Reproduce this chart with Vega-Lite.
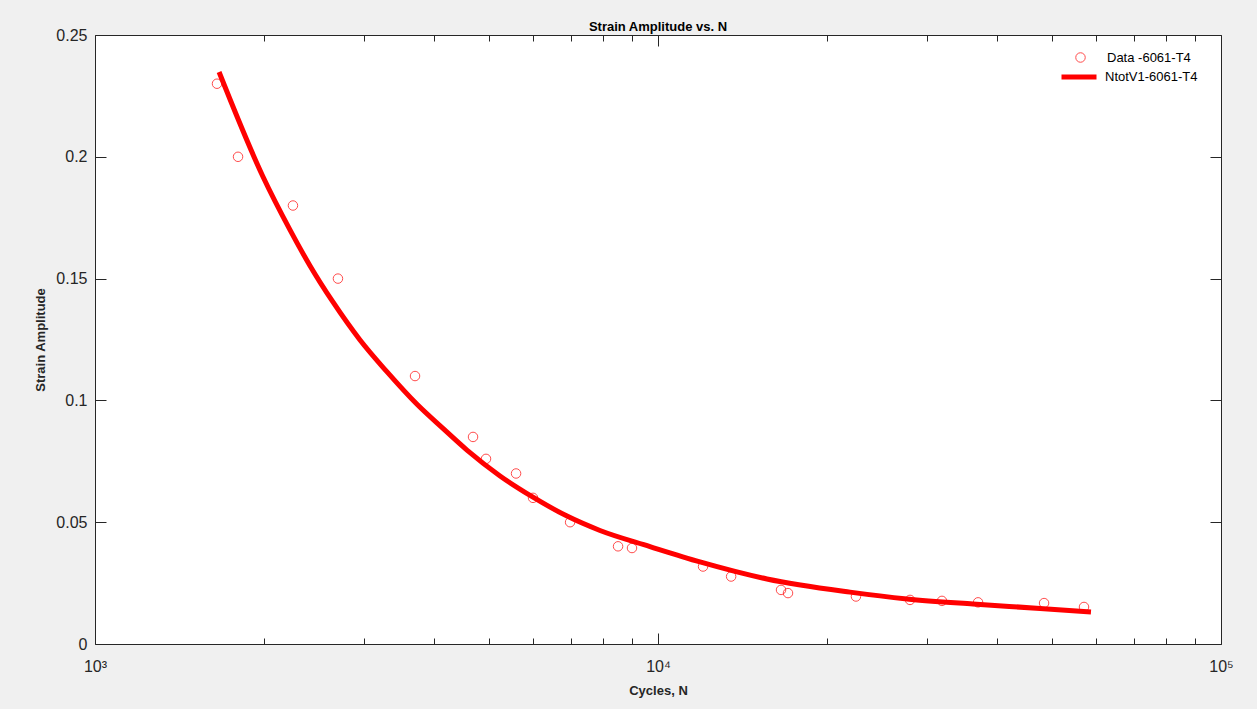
{
  "$schema": "https://vega.github.io/schema/vega-lite/v6.json",
  "width": 1126,
  "height": 609,
  "autosize": {"type": "none"},
  "padding": {"left": 95, "top": 35, "right": 36, "bottom": 65},
  "background": "#f0f0f0",
  "config": {
    "font": "Liberation Sans",
    "view": {"fill": "white", "stroke": "#262626", "strokeWidth": 1},
    "axis": {
      "grid": false,
      "domain": false,
      "tickColor": "#262626",
      "tickWidth": 1,
      "labelColor": "#262626",
      "labelFont": "Liberation Sans",
      "labelFontSize": 16,
      "titleFont": "Liberation Sans",
      "titleFontSize": 13,
      "titleFontWeight": "bold",
      "titleColor": "#262626"
    }
  },
  "title": {
    "text": "Strain Amplitude vs. N",
    "font": "Liberation Sans",
    "fontSize": 13,
    "fontWeight": "bold",
    "color": "#000000",
    "anchor": "middle",
    "offset": -7
  },
  "datasets": {
    "measured": [
      {"N": 1647, "strain": 0.23, "series": "Data -6061-T4"},
      {"N": 1795, "strain": 0.2, "series": "Data -6061-T4"},
      {"N": 2247, "strain": 0.18, "series": "Data -6061-T4"},
      {"N": 2701, "strain": 0.15, "series": "Data -6061-T4"},
      {"N": 3702, "strain": 0.11, "series": "Data -6061-T4"},
      {"N": 4693, "strain": 0.085, "series": "Data -6061-T4"},
      {"N": 4949, "strain": 0.076, "series": "Data -6061-T4"},
      {"N": 5596, "strain": 0.07, "series": "Data -6061-T4"},
      {"N": 5998, "strain": 0.06, "series": "Data -6061-T4"},
      {"N": 6980, "strain": 0.05, "series": "Data -6061-T4"},
      {"N": 8493, "strain": 0.0401, "series": "Data -6061-T4"},
      {"N": 8991, "strain": 0.0394, "series": "Data -6061-T4"},
      {"N": 12023, "strain": 0.0318, "series": "Data -6061-T4"},
      {"N": 13486, "strain": 0.0277, "series": "Data -6061-T4"},
      {"N": 16540, "strain": 0.0222, "series": "Data -6061-T4"},
      {"N": 17018, "strain": 0.0209, "series": "Data -6061-T4"},
      {"N": 22471, "strain": 0.0195, "series": "Data -6061-T4"},
      {"N": 28030, "strain": 0.0181, "series": "Data -6061-T4"},
      {"N": 31943, "strain": 0.0177, "series": "Data -6061-T4"},
      {"N": 37025, "strain": 0.0171, "series": "Data -6061-T4"},
      {"N": 48499, "strain": 0.0168, "series": "Data -6061-T4"},
      {"N": 57104, "strain": 0.0152, "series": "Data -6061-T4"}
    ],
    "fit": [
      {"N": 1661, "strain": 0.2348, "series": "NtotV1-6061-T4"},
      {"N": 1988, "strain": 0.1918, "series": "NtotV1-6061-T4"},
      {"N": 2220, "strain": 0.170, "series": "NtotV1-6061-T4"},
      {"N": 2409, "strain": 0.1553, "series": "NtotV1-6061-T4"},
      {"N": 2646, "strain": 0.1404, "series": "NtotV1-6061-T4"},
      {"N": 2956, "strain": 0.1248, "series": "NtotV1-6061-T4"},
      {"N": 3302, "strain": 0.1117, "series": "NtotV1-6061-T4"},
      {"N": 3732, "strain": 0.0984, "series": "NtotV1-6061-T4"},
      {"N": 4150, "strain": 0.0885, "series": "NtotV1-6061-T4"},
      {"N": 4578, "strain": 0.0796, "series": "NtotV1-6061-T4"},
      {"N": 5241, "strain": 0.0690, "series": "NtotV1-6061-T4"},
      {"N": 5998, "strain": 0.0603, "series": "NtotV1-6061-T4"},
      {"N": 6893, "strain": 0.0525, "series": "NtotV1-6061-T4"},
      {"N": 7888, "strain": 0.0466, "series": "NtotV1-6061-T4"},
      {"N": 9678, "strain": 0.0400, "series": "NtotV1-6061-T4"},
      {"N": 11874, "strain": 0.0337, "series": "NtotV1-6061-T4"},
      {"N": 15615, "strain": 0.0267, "series": "NtotV1-6061-T4"},
      {"N": 21928, "strain": 0.0213, "series": "NtotV1-6061-T4"},
      {"N": 27690, "strain": 0.0185, "series": "NtotV1-6061-T4"},
      {"N": 36261, "strain": 0.0164, "series": "NtotV1-6061-T4"},
      {"N": 47704, "strain": 0.0146, "series": "NtotV1-6061-T4"},
      {"N": 58755, "strain": 0.0131, "series": "NtotV1-6061-T4"}
    ]
  },
  "layer": [
    {
      "data": {"name": "measured"},
      "mark": {"type": "point", "shape": "circle", "filled": false, "color": "#ff0000", "size": 90, "strokeWidth": 1},
      "encoding": {
        "x": {
          "field": "N",
          "type": "quantitative",
          "scale": {"type": "log", "domain": [1000, 100000], "nice": false},
          "axis": {
            "orient": "bottom",
            "title": "Cycles, N",
            "titlePadding": 5,
            "values": [1000, 2000, 3000, 4000, 5000, 6000, 7000, 8000, 9000, 10000, 20000, 30000, 40000, 50000, 60000, 70000, 80000, 90000, 100000],
            "labelExpr": "datum.value == 1000 ? '10³' : datum.value == 10000 ? '10⁴' : datum.value == 100000 ? '10⁵' : ''",
            "tickSize": {"condition": {"test": "datum.value == 1000 || datum.value == 10000 || datum.value == 100000", "value": -11}, "value": -6},
            "labelFontSize": 16,
            "labelPadding": 25,
            "labelFlush": false,
            "labelOverlap": false
          }
        },
        "y": {
          "field": "strain",
          "type": "quantitative",
          "scale": {"domain": [0, 0.25], "nice": false, "zero": true},
          "axis": {
            "orient": "left",
            "title": "Strain Amplitude",
            "titlePadding": 8,
            "values": [0, 0.05, 0.1, 0.15, 0.2, 0.25],
            "format": "~g",
            "tickSize": -11,
            "labelFontSize": 16,
            "labelPadding": 19,
            "labelFlush": false,
            "labelOverlap": false
          }
        },
        "shape": {
          "field": "series",
          "type": "nominal",
          "scale": {"range": ["circle"]},
          "legend": {
            "orient": "none",
            "legendX": 979,
            "legendY": 16,
            "title": null,
            "padding": 0,
            "symbolSize": 90,
            "symbolStrokeColor": "#ff0000",
            "symbolFillColor": "transparent",
            "symbolStrokeWidth": 1,
            "labelFont": "Liberation Sans",
            "labelFontSize": 13,
            "labelColor": "#000000",
            "labelOffset": 20
          }
        }
      }
    },
    {
      "data": {"name": "fit"},
      "mark": {"type": "line", "color": "#ff0000", "strokeWidth": 5, "interpolate": "monotone"},
      "encoding": {
        "x": {
          "field": "N",
          "type": "quantitative",
          "scale": {"type": "log", "domain": [1000, 100000], "nice": false},
          "axis": {
            "orient": "top",
            "title": null,
            "labels": false,
            "values": [1000, 2000, 3000, 4000, 5000, 6000, 7000, 8000, 9000, 10000, 20000, 30000, 40000, 50000, 60000, 70000, 80000, 90000, 100000],
            "tickSize": {"condition": {"test": "datum.value == 1000 || datum.value == 10000 || datum.value == 100000", "value": -11}, "value": -6}
          }
        },
        "y": {
          "field": "strain",
          "type": "quantitative",
          "scale": {"domain": [0, 0.25], "nice": false, "zero": true},
          "axis": {
            "orient": "right",
            "title": null,
            "labels": false,
            "values": [0, 0.05, 0.1, 0.15, 0.2, 0.25],
            "tickSize": -11
          }
        },
        "color": {
          "field": "series",
          "type": "nominal",
          "scale": {"range": ["#ff0000"]},
          "legend": {
            "orient": "none",
            "legendX": 964,
            "legendY": 22,
            "title": null,
            "padding": 0,
            "symbolType": "stroke",
            "symbolSize": 1225,
            "symbolStrokeColor": "#ff0000",
            "symbolStrokeWidth": 5,
            "labelFont": "Liberation Sans",
            "labelFontSize": 13,
            "labelColor": "#000000",
            "labelOffset": 6
          }
        }
      }
    }
  ],
  "resolve": {"axis": {"x": "independent", "y": "independent"}}
}
